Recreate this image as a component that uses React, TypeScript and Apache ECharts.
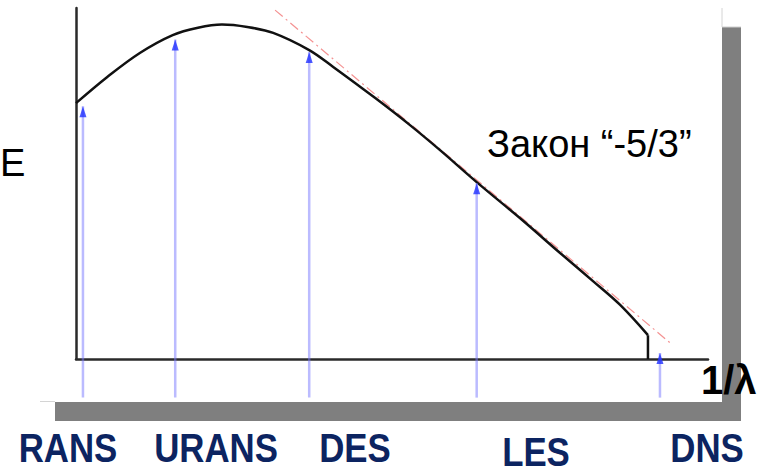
import React, { useEffect, useRef } from "react";
import * as echarts from "echarts";

// Energy spectrum E(1/λ) and the resolved range of each turbulence approach
const curveX = [0, 4.9, 10.1, 15.3, 19.3, 23.1, 27.1, 31.2, 36.9, 40.7, 47.3, 52.8, 57.6, 63.4, 70.6, 76.6, 81.8, 86.1, 90.5];
const curveE = [72.9, 80.3, 87.2, 92.3, 94.4, 95.3, 94.6, 92.9, 88.0, 83.2, 74.4, 66.7, 59.5, 50.4, 39.6, 30.2, 22.2, 15.4, 6.8];

// Dissipation cut-off drop at the end of the spectrum
const cutoffX = 90.5;
const cutoffE = [6.8, 0];

// "-5/3" law reference line
const slopeX = [31.5, 94.0];
const slopeE = [99.4, 4.6];

// Methods and where their arrows point on the spectrum
const methods = ["RANS", "URANS", "DES", "LES", "DNS"];
const arrowX = [1.1, 15.7, 36.9, 63.4, 92.4];
const arrowTip = [72, 91, 87.5, 50.1, 1.7];
const arrowBase = -11;

const labelPos = [
  [68, 448],
  [216, 448],
  [355, 448],
  [536, 452],
  [707, 448],
];

export default function App() {
  const ref = useRef<HTMLDivElement>(null);

  useEffect(() => {
    if (!ref.current) return;
    const chart = echarts.init(ref.current, undefined, { renderer: "svg" });

    const arrowShafts = arrowX.map((x, i) => ({
      type: "line",
      data: [
        [x, arrowBase],
        [x, arrowTip[i]],
      ],
      showSymbol: false,
      clip: false,
      silent: true,
      z: 3,
      lineStyle: { color: "rgba(120,120,255,0.5)", width: 2.5 },
    }));

    const labelFont = "bold 40px 'Liberation Sans Narrow', 'Arial Narrow', 'Liberation Sans', sans-serif";

    chart.setOption({
      animation: false,
      backgroundColor: "#ffffff",
      grid: { left: 76, top: 8, width: 632, height: 351 },
      xAxis: {
        type: "value",
        min: 0,
        max: 100,
        axisLine: { show: true, lineStyle: { color: "#2a2a2a", width: 2.5 } },
        axisTick: { show: false },
        axisLabel: { show: false },
        splitLine: { show: false },
      },
      yAxis: {
        type: "value",
        min: 0,
        max: 100,
        axisLine: { show: true, lineStyle: { color: "#2a2a2a", width: 2.5 } },
        axisTick: { show: false },
        axisLabel: { show: false },
        splitLine: { show: false },
      },
      graphic: [
        { type: "rect", z: -1, shape: { x: 722, y: 27, width: 19, height: 394 }, style: { fill: "#7f7f7f" } },
        { type: "rect", z: -1, shape: { x: 55, y: 402, width: 686, height: 19 }, style: { fill: "#7f7f7f" } },
        { type: "line", z: -1, shape: { x1: 722, y1: 8, x2: 722, y2: 27 }, style: { stroke: "#d4d4d4", lineWidth: 1 } },
        { type: "line", z: -1, shape: { x1: 722, y1: 27, x2: 741, y2: 27 }, style: { stroke: "#cfcfcf", lineWidth: 1 } },
        { type: "line", z: -1, shape: { x1: 40, y1: 401.5, x2: 55, y2: 401.5 }, style: { stroke: "#d4d4d4", lineWidth: 1 } },
        {
          type: "text",
          x: 0,
          y: 163,
          style: { text: "E", font: "38px 'Liberation Sans', Arial, sans-serif", fill: "#000", verticalAlign: "middle", textVerticalAlign: "middle" },
        },
        {
          type: "text",
          x: 487,
          y: 144,
          style: { text: "Закон “-5/3”", font: "38px 'Liberation Sans', Arial, sans-serif", fill: "#000", verticalAlign: "middle", textVerticalAlign: "middle" },
        },
        {
          type: "text",
          x: 701,
          y: 380,
          z: 10,
          style: { text: "1/λ", font: "bold 40px 'Liberation Sans', Arial, sans-serif", fill: "#000", verticalAlign: "middle", textVerticalAlign: "middle" },
        },
        ...methods.map((m, i) => ({
          type: "text",
          x: labelPos[i][0],
          y: labelPos[i][1],
          scaleX: 0.87,
          style: {
            text: m,
            font: labelFont,
            fill: "#0c2461",
            align: "center",
            textAlign: "center",
            verticalAlign: "middle",
            textVerticalAlign: "middle",
          },
        })),
      ],
      series: [
        {
          type: "line",
          data: slopeX.map((x, i) => [x, slopeE[i]]),
          showSymbol: false,
          clip: false,
          z: 1,
          lineStyle: { color: "rgba(240,110,110,0.75)", width: 1.2, type: [10, 4, 2, 4] },
        },
        {
          type: "line",
          data: curveX.map((x, i) => [x, curveE[i]]),
          smooth: 0.35,
          showSymbol: false,
          z: 2,
          lineStyle: { color: "#111111", width: 2.5 },
        },
        {
          type: "line",
          data: cutoffE.map((e) => [cutoffX, e]),
          showSymbol: false,
          z: 2,
          lineStyle: { color: "#111111", width: 2.5 },
        },
        ...arrowShafts,
        {
          type: "scatter",
          data: arrowX.map((x, i) => [x, arrowTip[i]]),
          symbol: "triangle",
          symbolSize: [7, 11],
          symbolOffset: [0, "50%"],
          z: 4,
          itemStyle: { color: "#1f2fff" },
          silent: true,
        },
      ],
    });

    return () => chart.dispose();
  }, []);

  return (
    <div
      ref={ref}
      style={{ position: "fixed", left: 0, top: 0, width: 764, height: 475, background: "#fff" }}
    />
  );
}
